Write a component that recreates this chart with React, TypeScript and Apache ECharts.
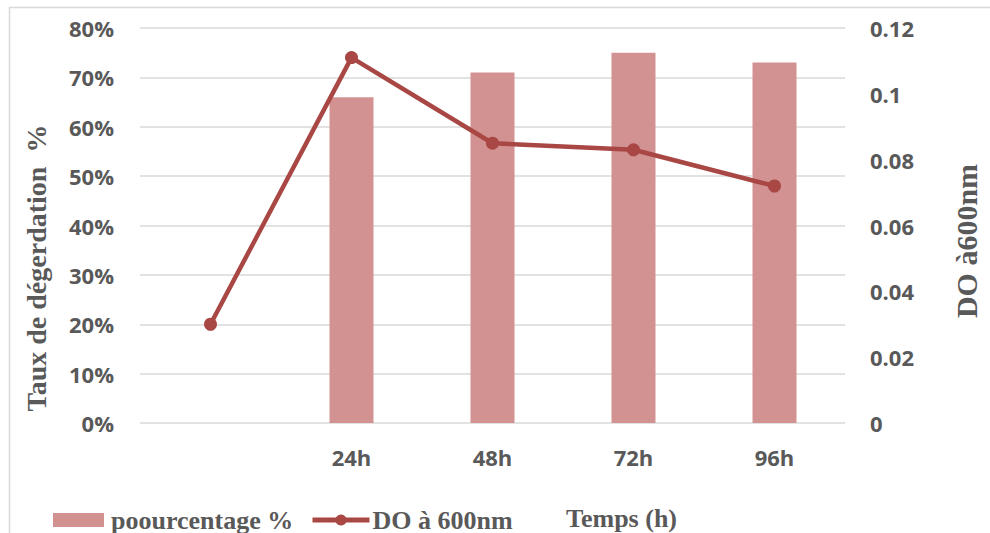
import React, { useEffect, useRef } from "react";
import * as echarts from "echarts";

const categories = ["", "24h", "48h", "72h", "96h"];
const pourcentage = [null, 66, 71, 75, 73];
const densiteOptique = [0.03, 0.111, 0.085, 0.083, 0.072];
const leftTicks = { min: 0, max: 80, interval: 10 };
const rightTicks = { min: 0, max: 0.12, interval: 0.02 };

const BAR_COLOR = "#d39292";
const LINE_COLOR = "#a84744";
const TEXT_COLOR = "#595959";
const SANS = "'Open Sans', 'Liberation Sans', sans-serif";
const SERIF = "'Liberation Serif', 'DejaVu Serif', serif";

const legendText = {
  fontFamily: SERIF,
  fontWeight: "bold" as const,
  fontSize: 26,
  color: TEXT_COLOR,
};

export default function App() {
  const ref = useRef<HTMLDivElement>(null);

  useEffect(() => {
    document.body.style.margin = "0";
    if (!ref.current) return;
    const chart = echarts.init(ref.current, undefined, { renderer: "svg" });
    chart.setOption({
      animation: false,
      backgroundColor: "#ffffff",
      grid: { left: 140, right: 145, top: 28, bottom: 110 },
      graphic: [
        {
          type: "rect",
          shape: { x: 9.5, y: 7.5, width: 990, height: 540 },
          style: { fill: "none", stroke: "#d9d9d9", lineWidth: 1.5 },
          silent: true,
        },
        {
          type: "text",
          x: 566,
          y: 518,
          style: {
            text: "Temps (h)",
            font: `bold 26px ${SERIF}`,
            fill: TEXT_COLOR,
            align: "left",
            verticalAlign: "middle",
          },
        },
        {
          type: "text",
          x: 36,
          y: 268,
          rotation: Math.PI / 2,
          style: {
            text: "Taux de dégerdation  %",
            font: `bold 28px ${SERIF}`,
            fill: TEXT_COLOR,
            align: "center",
            verticalAlign: "middle",
          },
        },
        {
          type: "text",
          x: 966,
          y: 241,
          rotation: Math.PI / 2,
          style: {
            text: "DO à600nm",
            font: `bold 30px ${SERIF}`,
            fill: TEXT_COLOR,
            align: "center",
            verticalAlign: "middle",
          },
        },
      ],
      legend: [
        {
          left: 48,
          top: 502,
          itemWidth: 51,
          itemHeight: 14,
          itemGap: 0,
          textStyle: { ...legendText, padding: [0, 0, 0, 2] },
          data: [{ name: "poourcentage %", icon: "rect" }],
        },
        {
          left: 305,
          top: 502,
          itemWidth: 57,
          itemHeight: 14,
          itemGap: 0,
          lineStyle: { width: 5, color: LINE_COLOR },
          textStyle: { ...legendText, padding: [0, 0, 0, -2] },
          data: [{ name: "DO à 600nm" }],
        },
      ],
      xAxis: {
        type: "category",
        data: categories,
        axisLine: { show: false },
        axisTick: { show: false },
        axisLabel: {
          margin: 23,
          fontFamily: SANS,
          fontWeight: "bold",
          fontSize: 22,
          color: TEXT_COLOR,
        },
      },
      yAxis: [
        {
          type: "value",
          ...leftTicks,
          axisLine: { show: false },
          axisTick: { show: false },
          splitLine: { lineStyle: { color: "#d9d9d9", width: 1.5 } },
          axisLabel: {
            margin: 26,
            fontFamily: SANS,
            fontWeight: "bold",
            fontSize: 22,
            color: TEXT_COLOR,
            formatter: (v: number) => `${v}%`,
          },
        },
        {
          type: "value",
          ...rightTicks,
          position: "right",
          axisLine: { show: false },
          axisTick: { show: false },
          splitLine: { show: false },
          axisLabel: {
            margin: 25,
            fontFamily: SANS,
            fontWeight: "bold",
            fontSize: 22,
            color: TEXT_COLOR,
            formatter: (v: number) => `${parseFloat(v.toFixed(2))}`,
          },
        },
      ],
      series: [
        {
          name: "poourcentage %",
          type: "bar",
          yAxisIndex: 0,
          data: pourcentage,
          barWidth: 44,
          itemStyle: { color: BAR_COLOR },
        },
        {
          name: "DO à 600nm",
          type: "line",
          yAxisIndex: 1,
          data: densiteOptique,
          symbol: "circle",
          symbolSize: 13,
          lineStyle: { color: LINE_COLOR, width: 4.5 },
          itemStyle: { color: LINE_COLOR },
        },
      ],
    });
    return () => chart.dispose();
  }, []);

  return <div ref={ref} style={{ width: 990, height: 533 }} />;
}
